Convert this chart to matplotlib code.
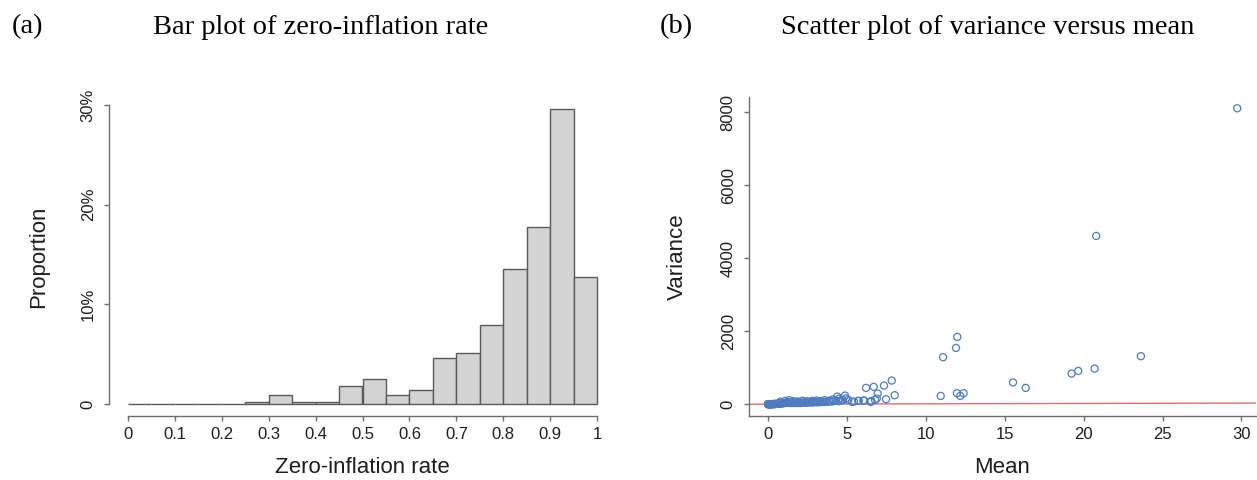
import matplotlib
matplotlib.use('Agg')
import matplotlib.pyplot as plt
from matplotlib.ticker import FixedLocator, FixedFormatter

# histogram of zero-inflation rate (proportion of genes per 0.05 bin, in %)
bin_left = [0.00, 0.05, 0.10, 0.15, 0.20, 0.25, 0.30, 0.35, 0.40, 0.45,
            0.50, 0.55, 0.60, 0.65, 0.70, 0.75, 0.80, 0.85, 0.90, 0.95]
bin_pct = [0, 0, 0, 0, 0, 0.23, 0.93, 0.23, 0.23, 1.87,
           2.57, 0.93, 1.40, 4.67, 5.13, 7.93, 13.53, 17.73, 29.6, 12.8]
hist_xticks = [0, 0.1, 0.2, 0.3, 0.4, 0.5, 0.6, 0.7, 0.8, 0.9, 1]
hist_xlabels = ['0', '0.1', '0.2', '0.3', '0.4', '0.5', '0.6', '0.7', '0.8', '0.9', '1']
hist_yticks = [0, 10, 20, 30]
hist_ylabels = ['0', '10%', '20%', '30%']

# per-gene mean and variance
low_mean = [0.01, 0.02, 0.03, 0.04, 0.05, 0.07, 0.08, 0.10, 0.12, 0.14,
            0.16, 0.18, 0.20, 0.23, 0.25, 0.28, 0.30, 0.33, 0.36, 0.39,
            0.42, 0.45, 0.48, 0.52, 0.55, 0.59, 0.62, 0.66, 0.70, 0.73,
            0.77, 0.81, 0.85, 0.89, 0.93, 0.98, 1.02, 1.07, 1.12, 1.17,
            1.22, 1.28, 1.33, 1.38, 1.44, 1.50, 1.56, 1.62, 1.68, 1.75,
            1.82, 1.88, 1.95, 2.03, 2.10, 2.18, 2.26, 2.34, 2.42, 2.50,
            2.59, 2.68, 2.77, 2.86, 2.95, 3.05, 3.15, 3.25, 3.35, 3.45,
            3.55, 3.65, 3.78, 3.92, 4.05, 4.20, 4.32, 4.48, 4.60, 4.75,
            0.80, 1.10, 1.35, 1.60, 1.90, 2.20, 2.50, 2.80, 3.10, 3.30,
            3.60, 3.90, 4.10, 4.40, 4.50, 4.70, 4.89, 4.95, 5.10, 5.34]
low_var = [0.01, 0.02, 0.04, 0.06, 0.08, 0.1, 0.15, 0.2, 0.3, 0.4,
           0.5, 0.6, 0.8, 1, 1.2, 1.5, 2, 2.5, 3, 3.5,
           4, 5, 6, 7, 8, 9, 10, 12, 14, 16,
           18, 20, 22, 24, 26, 28, 30, 32, 35, 38,
           40, 60, 45, 30, 35, 40, 45, 50, 30, 35,
           40, 45, 50, 30, 35, 40, 45, 50, 40, 45,
           50, 55, 45, 50, 55, 60, 50, 55, 60, 65,
           60, 70, 65, 80, 70, 90, 100, 85, 95, 110,
           70, 90, 110, 85, 75, 95, 80, 90, 100, 85,
           110, 95, 130, 208, 150, 120, 236, 160, 118, 63]
high_mean = [5.46, 5.73, 5.76, 6.05, 6.10, 6.22, 6.52, 6.56, 6.71, 6.79,
             6.90, 6.96, 7.36, 7.49, 7.85, 8.04, 10.95, 11.10, 11.92, 11.98,
             12.00, 12.19, 12.40, 15.53, 16.33, 19.24, 19.66, 20.70, 20.80, 23.63,
             29.73]
high_var = [71, 90, 90, 99, 99, 447, 63, 90, 474, 118,
            153, 290, 510, 137, 647, 246, 227, 1288, 1542, 301,
            1844, 227, 301, 597, 447, 839, 912, 975, 4612, 1315,
            8109]
sc_xticks = [0, 5, 10, 15, 20, 25, 30]
sc_yticks = [0, 2000, 4000, 6000, 8000]

sans = ['Liberation Sans', 'DejaVu Sans']
serif = ['Liberation Serif', 'DejaVu Serif']
axis_col = '#6e6e6e'
text_col = '#1e1e1e'

W, H = 1257, 480
fig = plt.figure(figsize=(W / 100, H / 100), dpi=100)


def px_axes(left, top, right, bottom):
    return fig.add_axes([left / W, 1 - bottom / H, (right - left) / W, (bottom - top) / H])


def style_axis(ax):
    for s in ax.spines.values():
        s.set_color(axis_col)
        s.set_linewidth(1.0)
    ax.tick_params(colors=axis_col, labelcolor=text_col, length=3.6, width=1.0,
                   labelsize=12)
    ax.tick_params(axis='x', pad=4)
    ax.tick_params(axis='y', pad=6)
    for lab in ax.get_xticklabels() + ax.get_yticklabels():
        lab.set_family(sans)
    for lab in ax.get_yticklabels():
        lab.set_rotation(90)
        lab.set_va('center')


# (a) histogram
ax1 = px_axes(109, 97, 616, 416)
ax1.bar(bin_left, [p / 100 for p in bin_pct], width=0.05, align='edge',
        color='#d3d3d3', edgecolor='#5a5a5a', linewidth=1.0)
ax1.set_xlim(-0.04, 1.04)
ax1.set_ylim(-0.0118, 0.308)
ax1.spines['top'].set_visible(False)
ax1.spines['right'].set_visible(False)
ax1.spines['left'].set_bounds(0, 0.30)
ax1.spines['bottom'].set_bounds(0, 1)
ax1.xaxis.set_major_locator(FixedLocator(hist_xticks))
ax1.xaxis.set_major_formatter(FixedFormatter(hist_xlabels))
ax1.yaxis.set_major_locator(FixedLocator([t / 100 for t in hist_yticks]))
ax1.yaxis.set_major_formatter(FixedFormatter(hist_ylabels))
style_axis(ax1)
ax1.set_xlabel('Zero-inflation rate', family=sans, fontsize=16, color=text_col)
ax1.set_ylabel('Proportion', family=sans, fontsize=16, color=text_col)
ax1.xaxis.set_label_coords(0.5, -0.128)
ax1.yaxis.set_label_coords(-0.118, 0.5)

# (b) variance against mean, with the Poisson line var = mean
ax2 = px_axes(749, 96.5, 1256, 416)
ax2.scatter(low_mean + high_mean, low_var + high_var, s=26, facecolors='none',
            edgecolors='#4f7cc0', linewidths=0.9, zorder=3)
ax2.axline((0, 0), slope=1, color='#e46c6c', linewidth=1.0, zorder=2)
ax2.set_xlim(-1.19, 30.92)
ax2.set_ylim(-324, 8433)
ax2.spines['top'].set_visible(False)
ax2.spines['right'].set_visible(False)
ax2.xaxis.set_major_locator(FixedLocator(sc_xticks))
ax2.yaxis.set_major_locator(FixedLocator(sc_yticks))
style_axis(ax2)
ax2.set_xlabel('Mean', family=sans, fontsize=16, color=text_col)
ax2.set_ylabel('Variance', family=sans, fontsize=16, color=text_col)
ax2.xaxis.set_label_coords(0.5, -0.128)
ax2.yaxis.set_label_coords(-0.120, 0.5)

# panel titles
title_kw = dict(family=serif, fontsize=20.5, va='center')
fig.text(12 / W, 1 - 27 / H, '(a)', ha='left', **title_kw)
fig.text(321 / W, 1 - 27 / H, 'Bar plot of zero-inflation rate', ha='center', **title_kw)
fig.text(660 / W, 1 - 27 / H, '(b)', ha='left', **title_kw)
fig.text(988 / W, 1 - 27 / H, 'Scatter plot of variance versus mean', ha='center', **title_kw)

fig.savefig('out.png', dpi=100)
